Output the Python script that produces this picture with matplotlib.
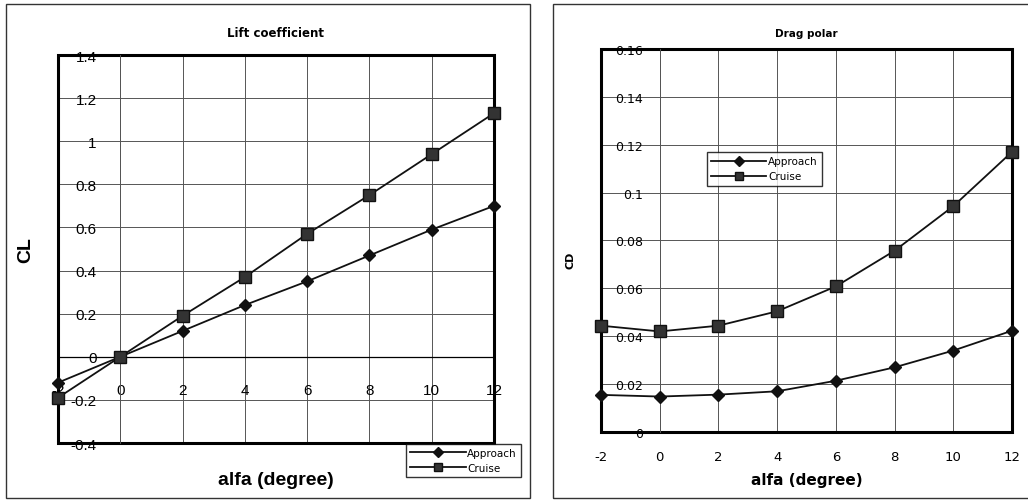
import matplotlib.pyplot as plt
from matplotlib.patches import Rectangle
from matplotlib.ticker import FuncFormatter, MultipleLocator

# data
alfa = [-2, 0, 2, 4, 6, 8, 10, 12]
cl_approach = [-0.12, 0.0, 0.12, 0.24, 0.35, 0.47, 0.59, 0.70]
cl_cruise = [-0.19, 0.0, 0.19, 0.37, 0.57, 0.75, 0.94, 1.13]
cd_approach = [0.0155, 0.0148, 0.0156, 0.017, 0.0214, 0.027, 0.034, 0.0423]
cd_cruise = [0.0444, 0.042, 0.0444, 0.0504, 0.0608, 0.0757, 0.0943, 0.117]

fmt = FuncFormatter(lambda v, p: '%g' % round(v, 4))
grid_col = '#555555'

fig = plt.figure(figsize=(10.28, 5.02), dpi=100)

# outer chart borders
fig.add_artist(Rectangle((0.0058, 0.006), 0.5097, 0.984, transform=fig.transFigure,
                         fill=False, lw=1.0, ec='#333333'))
fig.add_artist(Rectangle((0.538, 0.006), 0.47, 0.984, transform=fig.transFigure,
                         fill=False, lw=1.0, ec='#333333'))


def style_axes(ax):
    ax.grid(True, color=grid_col, lw=0.7)
    ax.set_axisbelow(True)
    for s in ax.spines.values():
        s.set_visible(False)
    ax.add_patch(Rectangle((0, 0), 1, 1, transform=ax.transAxes, fill=False,
                           lw=2.2, ec='black', zorder=2.5, clip_on=False))
    ax.xaxis.set_major_formatter(fmt)
    ax.yaxis.set_major_formatter(fmt)
    ax.spines['left'].set_visible(True)
    ax.spines['left'].set_position(('data', 0))
    ax.spines['left'].set_color(grid_col)
    ax.spines['left'].set_linewidth(0.7)


def add_legend(ax, anchor, loc):
    leg = ax.legend(loc=loc, bbox_to_anchor=anchor, fontsize=7.5,
                    frameon=True, fancybox=False, edgecolor='black', handlelength=5.3,
                    borderpad=0.4, labelspacing=0.5, handletextpad=0.15, borderaxespad=0,
                    markerscale=0.8)
    leg.get_frame().set_linewidth(1.0)
    leg.set_zorder(5)


# ---- Lift coefficient ----
ax1 = fig.add_axes([0.0564, 0.1155, 0.4241, 0.7729])
ax1.plot(alfa, cl_approach, color='#111111', lw=1.3, marker='D', ms=6.5,
         label='Approach', zorder=3, clip_on=False)
ax1.plot(alfa, cl_cruise, color='#111111', lw=1.3, marker='s', ms=8, mfc='#333333',
         label='Cruise', zorder=3, clip_on=False)
ax1.set_xlim(-2, 12)
ax1.set_ylim(-0.4, 1.4)
ax1.xaxis.set_major_locator(MultipleLocator(2))
ax1.yaxis.set_major_locator(MultipleLocator(0.2))
style_axes(ax1)
ax1.spines['bottom'].set_visible(True)
ax1.spines['bottom'].set_position(('data', 0))
ax1.spines['bottom'].set_color('black')
ax1.spines['bottom'].set_linewidth(0.9)
ax1.tick_params(axis='y', length=0, pad=17, labelsize=11)
ax1.tick_params(axis='x', length=0, pad=19, labelsize=11)
for t in ax1.get_xticklabels() + ax1.get_yticklabels():
    t.set_family('Liberation Sans')
ax1.set_title('Lift coefficient', fontsize=8.5, fontweight='bold', pad=14)
ax1.text(0.5, -0.093, 'alfa (degree)', transform=ax1.transAxes, ha='center', va='center',
         fontsize=14, fontweight='bold', family='Liberation Sans')
ax1.text(-0.075, 0.5, 'CL', transform=ax1.transAxes, ha='center', va='center',
         rotation=90, fontsize=14, fontweight='bold', family='Liberation Sans')
add_legend(ax1, (1.062, -0.088), 'lower right')

# ---- Drag polar ----
ax2 = fig.add_axes([0.5846, 0.1375, 0.3998, 0.763])
ax2.plot(alfa, cd_approach, color='#111111', lw=1.3, marker='D', ms=6.5,
         label='Approach', zorder=3, clip_on=False)
ax2.plot(alfa, cd_cruise, color='#111111', lw=1.3, marker='s', ms=8, mfc='#333333',
         label='Cruise', zorder=3, clip_on=False)
ax2.set_xlim(-2, 12)
ax2.set_ylim(0, 0.16)
ax2.xaxis.set_major_locator(MultipleLocator(2))
ax2.yaxis.set_major_locator(MultipleLocator(0.02))
style_axes(ax2)
ax2.tick_params(axis='y', length=0, pad=12, labelsize=9)
ax2.tick_params(axis='x', length=0, pad=13, labelsize=9.5)
ax2.set_title('Drag polar', fontsize=7.5, fontweight='bold', pad=9)
ax2.text(0.5, -0.123, 'alfa (degree)', transform=ax2.transAxes, ha='center', va='center',
         fontsize=11, fontweight='bold')
ax2.text(-0.075, 0.45, 'CD', transform=ax2.transAxes, ha='center', va='center',
         rotation=90, fontsize=8, fontweight='bold')
add_legend(ax2, (0.258, 0.731), 'upper left')

fig.savefig('out.png', dpi=100)
